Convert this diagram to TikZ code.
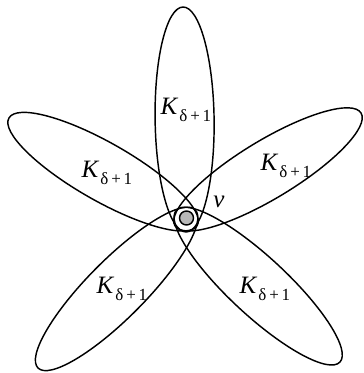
\documentclass[tikz,border=0pt]{standalone}
\usepackage{fontspec}
\setmainfont{Liberation Serif}
\newcommand\Klab{\textit{K}\kern1pt\raisebox{-7pt}{\fontsize{17}{17}\selectfont δ\,+\,1}}
\begin{document}
\begin{tikzpicture}[x=1pt,y=1pt,
  petal/.style={draw=black,line width=1.45pt},
  lab/.style={font=\fontsize{25}{25}\selectfont,inner sep=0pt}]
\useasboundingbox (0,0) rectangle (364,373);
% petals: center, angle, semi-axes
\draw[petal,rotate around={-89.2:(184.6,253.5)}] (184.6,253.5) ellipse [x radius=112.5, y radius=29.5];
\draw[petal,rotate around={-29.7:(103.1,201.3)}] (103.1,201.3) ellipse [x radius=108.4, y radius=29];
\draw[petal,rotate around={31.2:(268.0,203.6)}] (268.0,203.6) ellipse [x radius=108.8, y radius=29];
\draw[petal,rotate around={45.2:(116.6,84.1)}] (116.6,84.1) ellipse [x radius=111.5, y radius=29];
\draw[petal,rotate around={-42.9:(258.2,86.9)}] (258.2,86.9) ellipse [x radius=111.6, y radius=29];
% vertex
\node[circle,draw=black,line width=1.45pt,fill=black!28,minimum size=14pt,inner sep=0pt] (v) at (186.5,155) {};
\node[lab] (lv) at (219,171) {\textit{v}};
\node[lab] (k1) at (186,263) {\Klab};
\node[lab] (k2) at (107,200) {\Klab};
\node[lab] (k3) at (286,207) {\Klab};
\node[lab] (k4) at (122,84) {\Klab};
\node[lab] (k5) at (265,84) {\Klab};
\end{tikzpicture}
\end{document}
